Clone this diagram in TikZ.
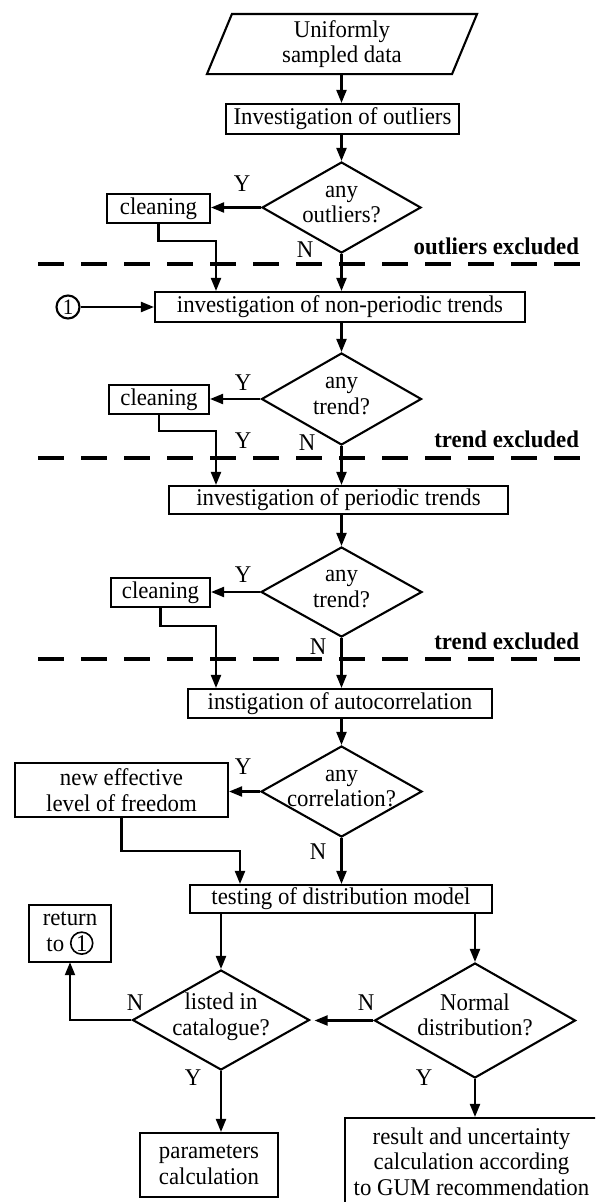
\documentclass[tikz,border=0pt]{standalone}
\usepackage{fontspec}
\setmainfont{Liberation Serif}[FakeStretch=0.95]
\usetikzlibrary{arrows.meta,shapes.geometric}
\newcommand\dtext[1]{\smash{\makebox[0pt]{\raisebox{-3.5pt}{\begin{tabular}{@{}c@{}}#1\end{tabular}}}}}
\newcommand\circled[1]{\tikz[baseline=(cc.base)]\node[circle,draw,line width=1.6pt,inner sep=0.5pt,minimum size=22pt] (cc) {#1};}
\begin{document}
\begin{tikzpicture}[x=1pt,y=-1pt, line width=2.1pt,
  box/.style={draw, rectangle, inner sep=0pt, align=center, font=\fontsize{24}{25.5}\selectfont},
  dia/.style={draw, diamond, inner sep=0pt, font=\fontsize{24}{25.5}\selectfont},
  lbl/.style={font=\fontsize{24}{25}\selectfont, inner sep=0pt},
  blbl/.style={font=\bfseries\fontsize{24}{25}\selectfont, inner sep=0pt, anchor=east},
  arr/.style={-{Triangle[length=13pt,width=10pt]}},
  sep/.style={line width=4.5pt, dash pattern=on 26pt off 17pt},
]
\clip (0,0) rectangle (595,1202);
\fill[white] (0,0) rectangle (595,1202);

% nodes
\node[box, draw=none, minimum width=243pt, minimum height=58pt] (start) at (342,44) {Uniformly\\sampled data};
\draw ([xshift=12.5pt]start.north west) -- ([xshift=12.5pt]start.north east) -- ([xshift=-12.5pt]start.south east) -- ([xshift=-12.5pt]start.south west) -- cycle;
\node[box, minimum width=233pt, minimum height=30pt] (b1) at (342.5,119) {Investigation of outliers};
\node[dia, minimum width=159pt, minimum height=91pt] (d1) at (341.5,207.5) {\dtext{any\\outliers?}};
\node[box, minimum width=103pt, minimum height=29pt] (c1) at (158.5,208.5) {cleaning};
\coordinate (j1) at (216,241);
\node[box, minimum width=370pt, minimum height=30pt] (b2) at (340,307) {investigation of non-periodic trends};
\node[circle, draw, minimum size=23pt, inner sep=0pt, font=\fontsize{22}{25}\selectfont] (o1) at (68,307) {1};
\node[dia, minimum width=160pt, minimum height=92pt] (d2) at (341.5,399) {\dtext{any\\trend?}};
\node[box, minimum width=100pt, minimum height=29pt] (c2) at (159,399.5) {cleaning};
\coordinate (j2) at (216,431);
\node[box, minimum width=339pt, minimum height=28pt] (b3) at (338.5,500) {investigation of periodic trends};
\node[dia, minimum width=161pt, minimum height=90pt] (d3) at (341.5,592) {\dtext{any\\trend?}};
\node[box, minimum width=99pt, minimum height=29pt] (c3) at (160.5,592.5) {cleaning};
\coordinate (j3) at (216,626);
\node[box, minimum width=304pt, minimum height=29pt] (b4) at (340,703.5) {instigation of autocorrelation};
\node[dia, minimum width=161pt, minimum height=91pt] (d4) at (341.5,791.5) {\dtext{any\\correlation?}};
\node[box, minimum width=213pt, minimum height=54pt] (ne) at (121.5,790) {new effective\\level of freedom};
\coordinate (j4) at (240,851);
\node[box, minimum width=302pt, minimum height=28pt] (b5) at (341,899) {testing of distribution model};
\node[box, minimum width=82pt, minimum height=57pt] (ret) at (70,933.5) {return\\to \circled{1}};
\node[dia, minimum width=177pt, minimum height=100pt] (dl) at (221,1020) {\dtext{listed in\\catalogue?}};
\node[dia, minimum width=201pt, minimum height=115pt] (dn) at (475,1020.5) {\dtext{Normal\\distribution?}};
\node[box, minimum width=138pt, minimum height=64pt] (par) at (209,1165) {parameters\\calculation};
\node[box, minimum width=253pt, minimum height=87pt] (res) at (471.5,1161.5) {result and uncertainty\\calculation according\\to GUM recommendation};

% separators
\draw[sep] (38,264) -- (582,264);
\draw[sep] (38,458) -- (582,458);
\draw[sep] (38,659) -- (582,659);
\node[blbl] (ex1) at (580,246) {outliers excluded};
\node[blbl] (ex2) at (580,439) {trend excluded};
\node[blbl] (ex3) at (580,641) {trend excluded};

% labels
\node[lbl] (y1) at (242,184) {Y};
\node[lbl] (n1) at (305,250) {N};
\node[lbl] (y2) at (243,383) {Y};
\node[lbl] (y2b) at (243,441) {Y};
\node[lbl] (n2) at (307,443) {N};
\node[lbl] (y3) at (243,575) {Y};
\node[lbl] (n3) at (318,647) {N};
\node[lbl] (y4) at (243,767) {Y};
\node[lbl] (n4) at (318,852) {N};
\node[lbl] (nl) at (135,1003) {N};
\node[lbl] (nn) at (366,1003) {N};
\node[lbl] (yl) at (193,1078) {Y};
\node[lbl] (yn) at (424,1078) {Y};

% connectors
\draw[arr] (d1.north |- start.south) -- (d1.north |- b1.north);
\draw[arr] (d1.north |- b1.south) -- (d1.north);
\draw[arr] (d1.west) -- (d1.west -| c1.east);
\draw[arr] (c1.south) |- (j1) -- (j1 |- b2.north);
\draw[arr] (d1.south) -- (d1.south |- b2.north);
\draw[arr] (o1.east) -- (o1.east -| b2.west);
\draw[arr] (d2.north |- b2.south) -- (d2.north);
\draw[arr] (d2.west) -- (d2.west -| c2.east);
\draw[arr] (c2.south) |- (j2) -- (j2 |- b3.north);
\draw[arr] (d2.south) -- (d2.south |- b3.north);
\draw[arr] (d3.north |- b3.south) -- (d3.north);
\draw[arr] (d3.west) -- (d3.west -| c3.east);
\draw[arr] (c3.south) |- (j3) -- (j3 |- b4.north);
\draw[arr] (d3.south) -- (d3.south |- b4.north);
\draw[arr] (d4.north |- b4.south) -- (d4.north);
\draw[arr] (d4.west) -- (d4.west -| ne.east);
\draw[arr] (ne.south) |- (j4) -- (j4 |- b5.north);
\draw[arr] (d4.south) -- (d4.south |- b5.north);
\draw[arr] (dl.north |- b5.south) -- (dl.north);
\draw[arr] (dn.north |- b5.south) -- (dn.north);
\draw[arr, shorten >=4pt] (dn.west) -- (dn.west -| dl.east);
\draw[arr] (dl.west) -| (ret.south);
\draw[arr] (dl.south) -- (dl.south |- par.north);
\draw[arr] (dn.south) -- (dn.south |- res.north);
\end{tikzpicture}
\end{document}
